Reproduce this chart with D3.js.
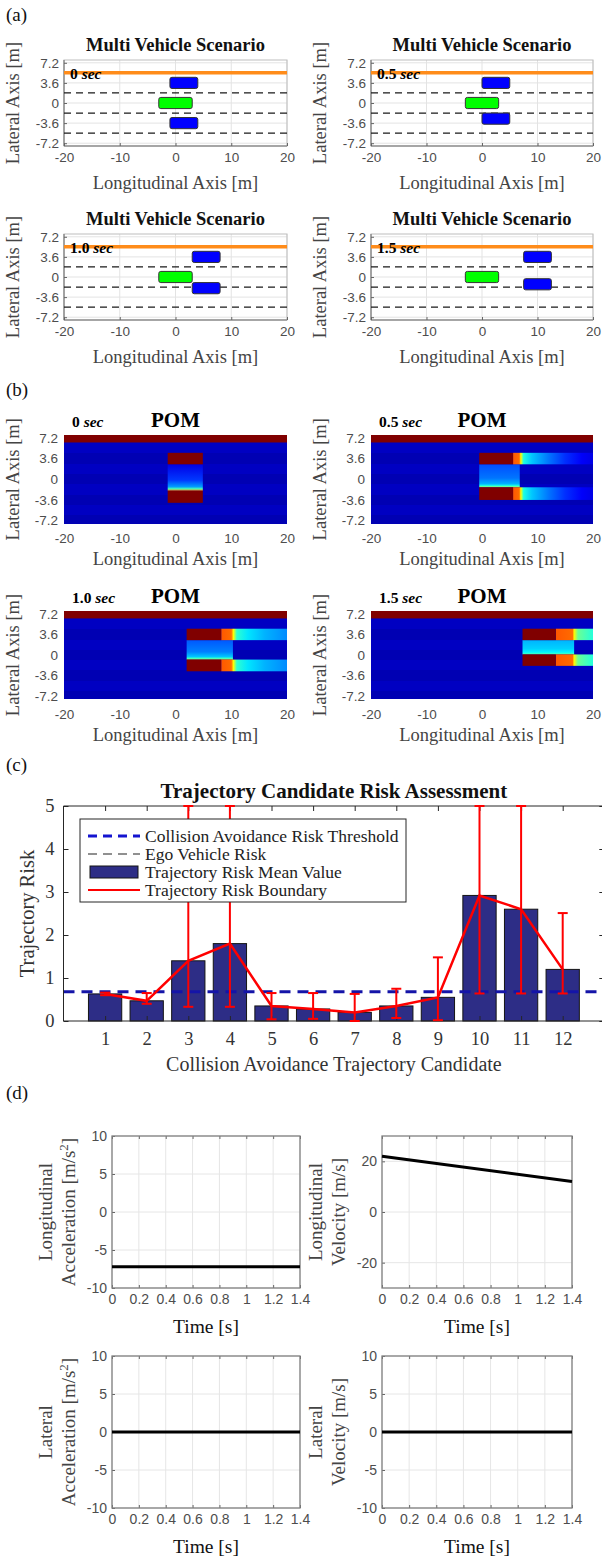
<!DOCTYPE html>
<html>
<head>
<meta charset="utf-8">
<script src="https://cdn.jsdelivr.net/npm/d3@7"></script>
<style>
  body { margin: 0; background: #fff; }
  svg { display: block; }
</style>
</head>
<body>
<div id="fig"></div>
<script>
// ---------- (a) scenario ----------
const frameLabels = ["0", "0.5", "1.0", "1.5"];
const lonTicks = [-20, -10, 0, 10, 20];
const laneTicks = [-7.2, -3.6, 0, 3.6, 7.2];
const laneMarks = [1.8, -1.8, -5.4];
const roadEdge = 5.4;
const egoRear = [-3, -3, -3, -3];
const egoCenter = [0, 0, 0, 0];
const upperRear = [-1, 0, 3, 7.5];
const upperCenter = [3.6, 3.6, 3.6, 3.6];
const lowerRear = [-1, 0, 3, 7.5];
const lowerCenter = [-3.6, -2.8, -2.0, -1.3];
const egoLength = 6, carLength = 5, carWidth = 2;

// ---------- (b) POM ----------
const pomCoreStart = [-1.4, -0.5, 2.0, 7.3];
const pomCoreEnd = [4.9, 5.6, 8.2, 13.3];
const pomUpperBand = [2.6, 4.6];
const pomLowerTop = [-2.0, -1.4, -0.8, 0.1];
const pomLowerBottom = [-4.1, -3.6, -2.85, -1.9];
const pomSpreadEnd = [4.9, 6.8, 10.3, 16.6];
const pomSpreadOffsets = [0, 0.6, 0.85, 0.93, 1];
const pomSpreadLevels = [
  [0.1, 0.18, 0.28, 0.45, 0.75],
  [0.2, 0.24, 0.3, 0.4, 0.55],
  [0.21, 0.25, 0.32, 0.42, 0.55],
  [0.3, 0.33, 0.37, 0.42, 0.5]
];
const pomTail = [
  [],
  [[5.6, 0.79], [6.7, 0.77], [7.0, 0.62], [7.5, 0.4], [9, 0.32], [12, 0.24], [15, 0.17], [18, 0.12], [20, 0.1]],
  [[8.2, 0.79], [10, 0.77], [10.4, 0.62], [11, 0.42], [13, 0.35], [16, 0.3], [20, 0.26]],
  [[13.3, 0.79], [16.3, 0.77], [16.6, 0.63], [17.3, 0.48], [20, 0.41]]
];
const pomEdgeBand = [6.4, 7.7];
const pomStripeEdges = [-7.7, -6.3, -4.5, -2.7, -0.9, 0.9, 2.7, 4.5, 6.4];
const pomStripeLevels = [0.05, 0.065, 0.05, 0.065, 0.05, 0.065, 0.05, 0.065];

// ---------- (c) risk ----------
const candidates = [1, 2, 3, 4, 5, 6, 7, 8, 9, 10, 11, 12];
const meanRisk = [0.63, 0.47, 1.4, 1.8, 0.35, 0.28, 0.2, 0.35, 0.55, 2.92, 2.6, 1.2];
const riskLow = [0.6, 0.4, 0.33, 0.33, 0.04, 0.05, 0.0, 0.07, 0.02, 0.64, 0.64, 0.64];
const riskHigh = [0.66, 0.65, 5, 5, 0.65, 0.65, 0.63, 0.75, 1.48, 5, 5, 2.51];
const riskThreshold = 0.68;
const riskTicks = [0, 1, 2, 3, 4, 5];
const legendItems = ["Collision Avoidance Risk Threshold", "Ego Vehicle Risk", "Trajectory Risk Mean Value", "Trajectory Risk Boundary"];

// ---------- (d) kinematics ----------
const timeSpan = [0, 1.4];
const timeTicks = [0, 0.2, 0.4, 0.6, 0.8, 1, 1.2, 1.4];
const lonAcc = [-7.2, -7.2];
const lonVel = [22, 12];
const latAcc = [0, 0];
const latVel = [0, 0];
const accTicks = [-10, -5, 0, 5, 10];
const velTicks = [-20, 0, 20];

const svg = d3.select("#fig").append("svg").attr("width", 602).attr("height", 1558)
  .attr("font-family", "'Liberation Serif', 'Times New Roman', serif");

const jet = d3.scaleLinear()
  .domain([0, 0.125, 0.375, 0.625, 0.875, 1])
  .range(["#000080", "#0000ff", "#00ffff", "#ffff00", "#ff0000", "#800000"]);

const cols = [[64, 287], [371, 593]];
const aRows = [[60, 146], [234, 320]];
const bRows = [[435, 523.5], [611, 699]];
const fmt = d => String(d);
const defs = svg.append("defs");
const SANS = "'Liberation Sans', Arial, sans-serif";
const SERIF = "'Liberation Serif', 'Times New Roman', serif";

function panelLabel(t, y) {
  svg.append("text").attr("x", 6).attr("y", y).attr("font-size", 19).attr("fill", "#111").text(t);
}

function timeLabel(g, x, y, lab) {
  const t = g.append("text").attr("x", x).attr("y", y).attr("font-size", 15.5)
    .attr("font-weight", "bold").attr("fill", "#000");
  t.append("tspan").text(lab + " ");
  t.append("tspan").attr("font-style", "italic").text("sec");
}

function axisLabels(g, c, r, xOff) {
  g.append("text").attr("x", (c[0] + c[1]) / 2).attr("y", r[1] + xOff)
    .attr("text-anchor", "middle").attr("font-size", 18.5).attr("fill", "#444")
    .text("Longitudinal Axis [m]");
  g.append("text").attr("transform", `translate(${c[0] - 45},${(r[0] + r[1]) / 2}) rotate(-90)`)
    .attr("text-anchor", "middle").attr("font-size", 18.5).attr("fill", "#444")
    .text("Lateral Axis [m]");
}

function styleTicks(sel, size) {
  sel.attr("font-family", SANS);
  sel.selectAll("text").attr("font-family", SANS).attr("font-size", size).attr("fill", "#4d4d4d");
  sel.select(".domain").remove();
  sel.selectAll("line").attr("stroke", "#666");
}

// ===== (a) =====
panelLabel("(a)", 21);
frameLabels.forEach((lab, i) => {
  const c = cols[i % 2], r = aRows[Math.floor(i / 2)];
  const x = d3.scaleLinear().domain([-20, 20]).range(c);
  const y = d3.scaleLinear().domain([-7.7, 7.7]).range([r[1], r[0]]);
  const g = svg.append("g");

  g.selectAll(".gx").data(lonTicks).join("line")
    .attr("x1", d => x(d)).attr("x2", d => x(d)).attr("y1", r[0]).attr("y2", r[1])
    .attr("stroke", "#e3e3e3");
  g.selectAll(".gy").data(laneTicks).join("line")
    .attr("x1", c[0]).attr("x2", c[1]).attr("y1", d => y(d)).attr("y2", d => y(d))
    .attr("stroke", "#e3e3e3");
  g.append("rect").attr("x", c[0]).attr("y", r[0]).attr("width", c[1] - c[0]).attr("height", r[1] - r[0])
    .attr("fill", "none").attr("stroke", "#bdbdbd");
  g.append("path").attr("d", `M${c[0]},${r[0]}V${r[1]}H${c[1]}`).attr("fill", "none").attr("stroke", "#6e6e6e");

  g.append("g").attr("transform", `translate(${c[0]},0)`)
    .call(d3.axisLeft(y).tickValues(laneTicks).tickFormat(fmt).tickSize(-3).tickPadding(5))
    .call(s => styleTicks(s, 13.5));
  g.append("g").attr("transform", `translate(0,${r[1]})`)
    .call(d3.axisBottom(x).tickValues(lonTicks).tickFormat(fmt).tickSize(-3).tickPadding(6))
    .call(s => styleTicks(s, 13.5));

  g.selectAll(".lane").data(laneMarks).join("line")
    .attr("x1", c[0]).attr("x2", c[1]).attr("y1", d => y(d)).attr("y2", d => y(d))
    .attr("stroke", "#1a1a1a").attr("stroke-width", 1.3).attr("stroke-dasharray", "7,5");
  g.append("line").attr("x1", c[0]).attr("x2", c[1]).attr("y1", y(roadEdge)).attr("y2", y(roadEdge))
    .attr("stroke", "#ff8c1a").attr("stroke-width", 3.5);

  const cars = [
    { rear: egoRear[i], len: egoLength, ctr: egoCenter[i], fill: "#00ff00" },
    { rear: upperRear[i], len: carLength, ctr: upperCenter[i], fill: "#0000ff" },
    { rear: lowerRear[i], len: carLength, ctr: lowerCenter[i], fill: "#0000ff" }
  ];
  g.selectAll(".car").data(cars).join("rect")
    .attr("x", d => x(d.rear)).attr("width", d => x(d.rear + d.len) - x(d.rear))
    .attr("y", d => y(d.ctr + carWidth / 2)).attr("height", d => y(d.ctr - carWidth / 2) - y(d.ctr + carWidth / 2))
    .attr("rx", 2).attr("fill", d => d.fill).attr("stroke", "#333").attr("stroke-width", 1);

  g.append("text").attr("x", (c[0] + c[1]) / 2).attr("y", r[0] - 9).attr("text-anchor", "middle")
    .attr("font-size", 18.5).attr("font-weight", "bold").attr("fill", "#111").text("Multi Vehicle Scenario");
  timeLabel(g, c[0] + 6, y(roadEdge) + 6, lab);
  axisLabels(g, c, r, 43);
});

// ===== (b) =====
panelLabel("(b)", 396);
frameLabels.forEach((lab, i) => {
  const c = cols[i % 2], r = bRows[Math.floor(i / 2)];
  const x = d3.scaleLinear().domain([-20, 20]).range(c);
  const y = d3.scaleLinear().domain([-7.7, 7.7]).range([r[1], r[0]]);
  const g = svg.append("g");

  g.append("rect").attr("x", c[0]).attr("width", c[1] - c[0]).attr("y", r[0]).attr("height", r[1] - r[0])
    .attr("fill", jet(pomStripeLevels[0]));
  g.selectAll(".stripe").data(pomStripeLevels).join("rect")
    .attr("x", c[0]).attr("width", c[1] - c[0])
    .attr("y", (d, j) => y(pomStripeEdges[j + 1])).attr("height", (d, j) => y(pomStripeEdges[j]) - y(pomStripeEdges[j + 1]))
    .attr("fill", d => jet(d)).attr("shape-rendering", "crispEdges");
  g.append("rect").attr("x", c[0]).attr("width", c[1] - c[0])
    .attr("y", y(pomEdgeBand[1])).attr("height", y(pomEdgeBand[0]) - y(pomEdgeBand[1])).attr("fill", jet(1));

  // lateral spread between the vehicles
  const sg = defs.append("linearGradient").attr("id", "spread" + i).attr("gradientUnits", "userSpaceOnUse")
    .attr("x1", 0).attr("x2", 0).attr("y1", y(pomUpperBand[0])).attr("y2", y(pomLowerTop[i]));
  sg.selectAll("stop").data(pomSpreadLevels[i]).join("stop")
    .attr("offset", (d, j) => pomSpreadOffsets[j]).attr("stop-color", d => jet(d));
  g.append("rect").attr("x", x(pomCoreStart[i])).attr("width", x(pomSpreadEnd[i]) - x(pomCoreStart[i]))
    .attr("y", y(pomUpperBand[0])).attr("height", y(pomLowerTop[i]) - y(pomUpperBand[0]))
    .attr("fill", `url(#spread${i})`);

  const bands = [pomUpperBand, [pomLowerBottom[i], pomLowerTop[i]]];
  const tail = pomTail[i];
  if (tail.length) {
    const x0 = tail[0][0], x1 = tail[tail.length - 1][0];
    const tg = defs.append("linearGradient").attr("id", "tail" + i).attr("gradientUnits", "userSpaceOnUse")
      .attr("x1", x(x0)).attr("x2", x(x1)).attr("y1", 0).attr("y2", 0);
    tg.selectAll("stop").data(tail).join("stop")
      .attr("offset", d => (d[0] - x0) / (x1 - x0)).attr("stop-color", d => jet(d[1]));
    g.selectAll(".tail").data(bands).join("rect")
      .attr("x", x(x0)).attr("width", x(x1) - x(x0))
      .attr("y", d => y(d[1])).attr("height", d => y(d[0]) - y(d[1]))
      .attr("fill", `url(#tail${i})`);
  }
  g.selectAll(".core").data(bands).join("rect")
    .attr("x", x(pomCoreStart[i])).attr("width", x(pomCoreEnd[i]) - x(pomCoreStart[i]))
    .attr("y", d => y(d[1])).attr("height", d => y(d[0]) - y(d[1]))
    .attr("fill", jet(1));

  g.append("g").attr("transform", `translate(${c[0]},0)`)
    .call(d3.axisLeft(y).tickValues(laneTicks).tickFormat(fmt).tickSize(0).tickPadding(6))
    .call(s => styleTicks(s, 13.5));
  g.append("g").attr("transform", `translate(0,${r[1]})`)
    .call(d3.axisBottom(x).tickValues(lonTicks).tickFormat(fmt).tickSize(0).tickPadding(10))
    .call(s => styleTicks(s, 13.5));

  g.append("text").attr("x", (c[0] + c[1]) / 2).attr("y", r[0] - 8).attr("text-anchor", "middle")
    .attr("font-size", 21).attr("font-weight", "bold").attr("fill", "#000").text("POM");
  timeLabel(g, c[0] + 8, r[0] - 8, lab);
  axisLabels(g, c, r, 41.5);
});

// ===== (c) =====
panelLabel("(c)", 771);
{
  const x = d3.scaleLinear().domain([0, 13]).range([63.5, 604.3]);
  const y = d3.scaleLinear().domain([0, 5]).range([1021, 806]);
  const g = svg.append("g");
  const serifTicks = s => {
    s.attr("font-family", SERIF);
    s.select(".domain").remove();
    s.selectAll("line").attr("stroke", "#262626");
    s.selectAll("text").attr("font-family", SERIF).attr("font-size", 18.5).attr("fill", "#333");
  };

  g.selectAll(".bar").data(meanRisk).join("rect")
    .attr("x", (d, i) => x(candidates[i] - 0.4)).attr("width", x(0.8) - x(0))
    .attr("y", d => y(d)).attr("height", d => y(0) - y(d))
    .attr("fill", "#2d2d86").attr("stroke", "#141414").attr("stroke-width", 1);

  g.append("line").attr("x1", x(0)).attr("x2", x(13)).attr("y1", y(riskThreshold)).attr("y2", y(riskThreshold))
    .attr("stroke", "#1414a8").attr("stroke-width", 3).attr("stroke-dasharray", "11,7");

  g.append("g").attr("transform", `translate(0,${y(0)})`)
    .call(d3.axisBottom(x).tickValues(candidates).tickFormat(fmt).tickSize(-5).tickPadding(11)).call(serifTicks);
  g.append("g").attr("transform", `translate(0,${y(5)})`)
    .call(d3.axisTop(x).tickValues(candidates).tickFormat("").tickSize(-5)).call(serifTicks);
  g.append("g").attr("transform", `translate(${x(0)},0)`)
    .call(d3.axisLeft(y).tickValues(riskTicks).tickFormat(fmt).tickSize(-5).tickPadding(9)).call(serifTicks);
  g.append("g").attr("transform", `translate(${x(13)},0)`)
    .call(d3.axisRight(y).tickValues(riskTicks).tickFormat("").tickSize(-5)).call(serifTicks);
  g.append("path").attr("d", `M${x(13)},${y(5)}H${x(0)}V${y(0)}H${x(13)}`)
    .attr("fill", "none").attr("stroke", "#262626");

  // error bars + boundary line
  const eb = g.selectAll(".eb").data(candidates).join("g").attr("stroke", "#ff0000").attr("stroke-width", 2);
  eb.append("line").attr("x1", d => x(d)).attr("x2", d => x(d))
    .attr("y1", (d, i) => y(riskLow[i])).attr("y2", (d, i) => y(riskHigh[i]));
  eb.append("line").attr("x1", d => x(d) - 5).attr("x2", d => x(d) + 5)
    .attr("y1", (d, i) => y(riskLow[i])).attr("y2", (d, i) => y(riskLow[i]));
  eb.append("line").attr("x1", d => x(d) - 5).attr("x2", d => x(d) + 5)
    .attr("y1", (d, i) => y(riskHigh[i])).attr("y2", (d, i) => y(riskHigh[i]));
  g.append("path").datum(meanRisk)
    .attr("d", d3.line().x((d, i) => x(candidates[i])).y(d => y(d)))
    .attr("fill", "none").attr("stroke", "#ff0000").attr("stroke-width", 2.5);

  // legend
  const lg = g.append("g");
  lg.append("rect").attr("x", 80).attr("y", 819).attr("width", 326).attr("height", 83)
    .attr("fill", "#fff").attr("stroke", "#262626").attr("stroke-width", 1);
  const rowY = i => 836 + i * 18;
  lg.append("line").attr("x1", 88).attr("x2", 140).attr("y1", rowY(0)).attr("y2", rowY(0))
    .attr("stroke", "#1414d0").attr("stroke-width", 3).attr("stroke-dasharray", "9,6");
  lg.append("line").attr("x1", 88).attr("x2", 140).attr("y1", rowY(1)).attr("y2", rowY(1))
    .attr("stroke", "#222").attr("stroke-width", 1.2).attr("stroke-dasharray", "9,6");
  lg.append("rect").attr("x", 90).attr("y", rowY(2) - 6).attr("width", 48).attr("height", 12)
    .attr("fill", "#2d2d86").attr("stroke", "#141414");
  lg.append("line").attr("x1", 88).attr("x2", 140).attr("y1", rowY(3)).attr("y2", rowY(3))
    .attr("stroke", "#ff0000").attr("stroke-width", 2);
  lg.selectAll(".lt").data(legendItems).join("text")
    .attr("x", 145).attr("y", (d, i) => rowY(i) + 6).attr("font-size", 17.5).attr("fill", "#222").text(d => d);

  g.append("text").attr("x", (x(0) + x(13)) / 2).attr("y", 798).attr("text-anchor", "middle")
    .attr("font-size", 21).attr("font-weight", "bold").attr("fill", "#111").text("Trajectory Candidate Risk Assessment");
  g.append("text").attr("x", (x(0) + x(13)) / 2).attr("y", 1071).attr("text-anchor", "middle")
    .attr("font-size", 20).attr("fill", "#333").text("Collision Avoidance Trajectory Candidate");
  g.append("text").attr("transform", `translate(34,${(y(0) + y(5)) / 2}) rotate(-90)`).attr("text-anchor", "middle")
    .attr("font-size", 20.5).attr("fill", "#333").text("Trajectory Risk");
}

// ===== (d) =====
panelLabel("(d)", 1099);
const dCols = [[112, 300], [382, 572]];
const dRows = [[1136, 1288], [1356, 1508]];
const kinPanels = [
  { col: 0, row: 0, dom: [-10, 10], ticks: accTicks, vals: lonAcc, l1: "Longitudinal", l2: "Acceleration [m/s", sup: true },
  { col: 1, row: 0, dom: [-30, 30], ticks: velTicks, vals: lonVel, l1: "Longitudinal", l2: "Velocity [m/s]", sup: false },
  { col: 0, row: 1, dom: [-10, 10], ticks: accTicks, vals: latAcc, l1: "Lateral", l2: "Acceleration [m/s", sup: true },
  { col: 1, row: 1, dom: [-10, 10], ticks: accTicks, vals: latVel, l1: "Lateral", l2: "Velocity [m/s]", sup: false }
];
kinPanels.forEach(p => {
  const c = dCols[p.col], r = dRows[p.row];
  const x = d3.scaleLinear().domain(timeSpan).range(c);
  const y = d3.scaleLinear().domain(p.dom).range([r[1], r[0]]);
  const g = svg.append("g");
  g.selectAll(".gx").data(timeTicks).join("line")
    .attr("x1", d => x(d)).attr("x2", d => x(d)).attr("y1", r[0]).attr("y2", r[1]).attr("stroke", "#e6e6e6");
  g.selectAll(".gy").data(p.ticks).join("line")
    .attr("x1", c[0]).attr("x2", c[1]).attr("y1", d => y(d)).attr("y2", d => y(d)).attr("stroke", "#e6e6e6");
  g.append("g").attr("transform", `translate(${c[0]},0)`)
    .call(d3.axisLeft(y).tickValues(p.ticks).tickFormat(fmt).tickSize(-3).tickPadding(5))
    .call(s => styleTicks(s, 14));
  g.append("g").attr("transform", `translate(0,${r[1]})`)
    .call(d3.axisBottom(x).tickValues(timeTicks).tickFormat(fmt).tickSize(-3).tickPadding(6))
    .call(s => styleTicks(s, 14));
  g.append("g").attr("transform", `translate(0,${r[0]})`)
    .call(d3.axisTop(x).tickValues(timeTicks).tickFormat("").tickSize(-3))
    .call(s => styleTicks(s, 14));
  g.append("rect").attr("x", c[0]).attr("y", r[0]).attr("width", c[1] - c[0]).attr("height", r[1] - r[0])
    .attr("fill", "none").attr("stroke", "#808080").attr("stroke-width", 1.3);
  g.append("path").datum(p.vals)
    .attr("d", d3.line().x((d, i) => x(timeSpan[i])).y(d => y(d)))
    .attr("fill", "none").attr("stroke", "#000").attr("stroke-width", 3);

  g.append("text").attr("x", (c[0] + c[1]) / 2).attr("y", r[1] + 45).attr("text-anchor", "middle")
    .attr("font-size", 19.5).attr("fill", "#111").text("Time [s]");
  const cy = (r[0] + r[1]) / 2;
  g.append("text").attr("transform", `translate(${c[0] - 60},${cy}) rotate(-90)`).attr("text-anchor", "middle")
    .attr("font-size", 19).attr("fill", "#444").text(p.l1);
  const t2 = g.append("text").attr("transform", `translate(${c[0] - 37},${cy}) rotate(-90)`).attr("text-anchor", "middle")
    .attr("font-size", 19).attr("fill", "#444");
  t2.append("tspan").text(p.l2);
  if (p.sup) {
    t2.append("tspan").attr("font-size", 13).attr("dy", -7).text("2");
    t2.append("tspan").attr("dy", 7).text("]");
  }
});
</script>
</body>
</html>
